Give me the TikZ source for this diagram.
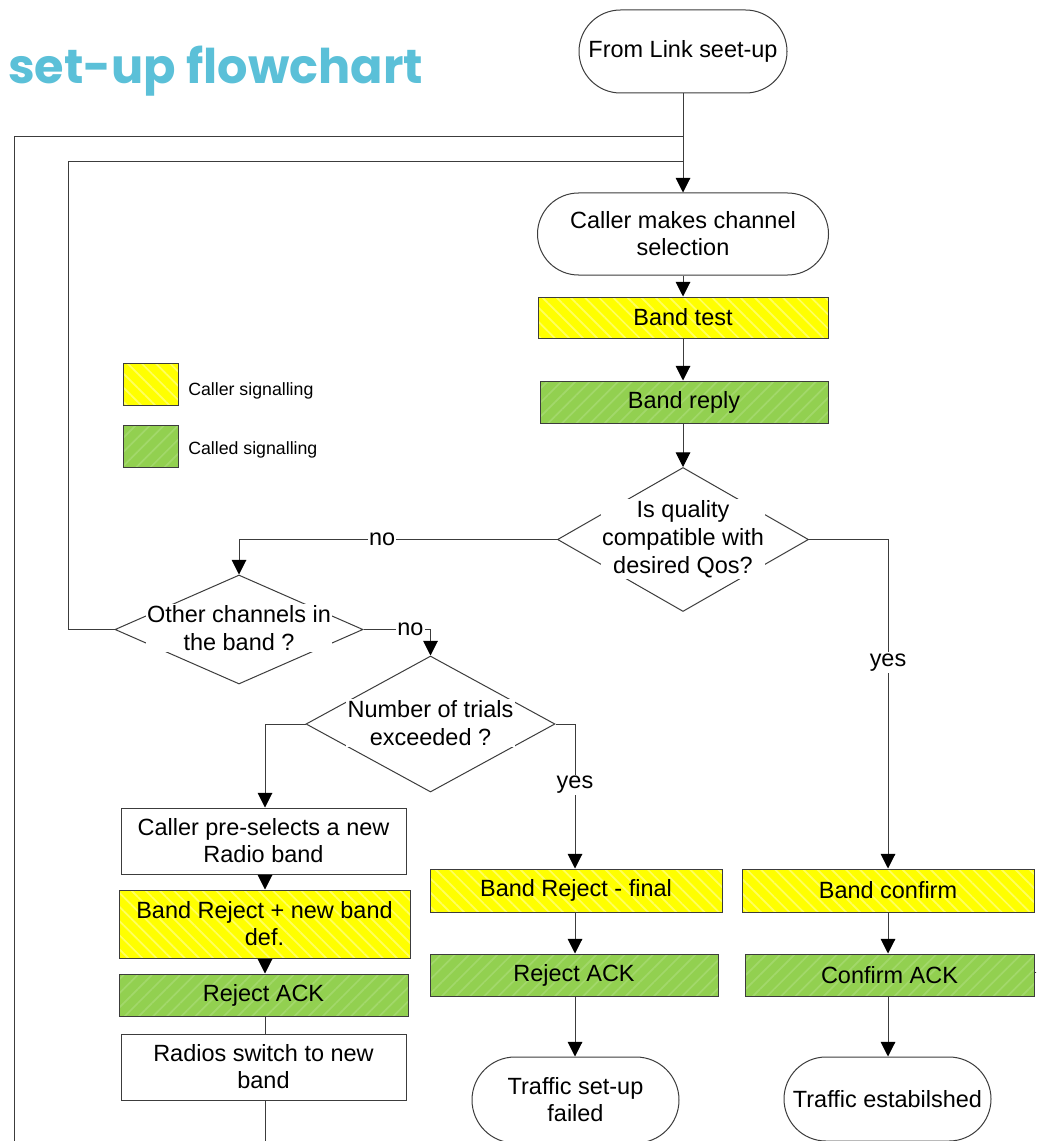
\documentclass[tikz,border=0pt]{standalone}
\usepackage{fontspec}
\setmainfont{Liberation Sans}
\newfontfamily\titlefont{Poppins}
\usetikzlibrary{shapes.geometric,shapes.misc,arrows.meta,patterns.meta}
\definecolor{ttl}{RGB}{91,192,216}
\definecolor{ylw}{RGB}{255,255,0}
\definecolor{ylwS}{RGB}{255,255,95}
\definecolor{grn}{RGB}{146,208,80}
\definecolor{grnS}{RGB}{162,216,106}
\definecolor{edge}{RGB}{60,60,60}
\tikzset{
  base/.style={draw=edge, line width=0.75pt, font=\fontsize{17.6}{20.3}\selectfont, align=center, inner sep=0pt},
  term/.style={base, rounded rectangle, fill=white},
  plainbox/.style={base, rectangle, fill=white},
  ybox/.style={base, rectangle, preaction={fill=ylw}, pattern={Lines[angle=-45,distance=7.5pt,line width=1.3pt]}, pattern color=ylwS},
  gbox/.style={base, rectangle, preaction={fill=grn}, pattern={Lines[angle=45,distance=7.5pt,line width=1.3pt]}, pattern color=grnS},
  dia/.style={draw=edge, line width=0.75pt, diamond, inner sep=0pt},
  diatext/.style={fill=white, inner sep=1pt, align=center, font=\fontsize{17.6}{20.8}\selectfont},
  conn/.style={draw=edge, line width=0.75pt},
  arr/.style={conn, -{Triangle[width=11pt,length=11pt,color=black]}},
  lbl/.style={fill=white, inner sep=1pt, font=\fontsize{17.6}{20.3}\selectfont},
  legtxt/.style={font=\fontsize{13.3}{15}\selectfont, anchor=west, inner sep=0pt},
}
\begin{document}
\begin{tikzpicture}[x=0.75pt,y=-0.75pt]
\useasboundingbox (0,0) rectangle (1036,1141);
\clip (0,0) rectangle (1036,1141);
\fill[white] (0,0) rectangle (1036,1141);

% title
\node[anchor=base west, inner sep=0pt, text=ttl] (title) at (8,84)
  {\resizebox{311pt}{!}{\titlefont\bfseries set-up flowchart}};

% legend
\node[ybox, minimum width=41.25pt, minimum height=31.5pt] (leg1) at (150.5,384) {};
\node[legtxt] (leg1t) at (188,391) {Caller signalling};
\node[gbox, minimum width=41.25pt, minimum height=31.5pt] (leg2) at (150.5,446) {};
\node[legtxt] (leg2t) at (188,450) {Called signalling};

% nodes
\node[term, minimum width=156pt, minimum height=62.25pt] (start) at (683,51.5) {From Link seet-up};
\node[term, minimum width=218.25pt, minimum height=61.5pt] (caller) at (683,234) {Caller makes channel\\selection};
\node[ybox, minimum width=217.5pt, minimum height=30.75pt] (btest) at (683,317.5) {Band test};
\node[gbox, minimum width=216pt, minimum height=31.5pt] (breply) at (684,402) {Band reply};

\node[dia, minimum width=188.25pt, minimum height=108pt] (q1) at (683,539.5) {};
\node[diatext] (q1t) at (683,539) {Is quality\\compatible with\\desired Qos?};
\node[dia, minimum width=186pt, minimum height=81.75pt] (q2) at (239,629.5) {};
\node[diatext] (q2t) at (239,628) {Other channels in\\the band ?};
\node[dia, minimum width=186.75pt, minimum height=102pt] (q3) at (430.5,724) {};
\node[diatext] (q3t) at (430.5,723) {Number of trials\\exceeded ?};

\node[plainbox, minimum width=213.75pt, minimum height=49.5pt] (presel) at (263.5,841) {Caller pre-selects a new\\Radio band};
\node[ybox, minimum width=218.25pt, minimum height=51pt] (brnew) at (264.5,924) {Band Reject + new band\\def.};
\node[gbox, minimum width=216.75pt, minimum height=31.5pt] (rack1) at (263.5,995) {Reject ACK};
\node[plainbox, minimum width=213.75pt, minimum height=49.5pt] (radios) at (263.5,1067) {Radios switch to new\\band};

\node[ybox, minimum width=219pt, minimum height=32.25pt] (brfinal) at (576,890.5) {Band Reject - final};
\node[gbox, minimum width=216pt, minimum height=31.5pt] (rack2) at (574,975) {Reject ACK};
\node[term, minimum width=155.25pt, minimum height=64.5pt] (failed) at (575.5,1100) {Traffic set-up\\failed};

\node[ybox, minimum width=219pt, minimum height=32.25pt] (bconf) at (888,890.5) {Band confirm};
\node[gbox, minimum width=216.75pt, minimum height=31.5pt] (cack) at (889.5,975) {Confirm ACK};
\node[term, minimum width=155.25pt, minimum height=63pt] (estab) at (887.5,1099) {Traffic estabilshed};

% helper coordinates
\coordinate (j1) at (683,137);
\coordinate (j2) at (683,162);
\coordinate (bl) at (265,1160);
\coordinate (br) at (14,1160);
\coordinate (stub) at (1050,972);

% connectors
\draw[arr] (start.south) -- (caller.north);
\draw[conn] (j1) -- (14,137) -- (br) -- (bl) -- (radios.south -| bl);
\draw[conn] (q2.west) -- (68,629.5) -- (68,162) -- (j2);
\draw[arr] (caller.south) -- (btest.north);
\draw[arr] (btest.south -| 683,0) -- (breply.north -| 683,0);
\draw[arr] (breply.south -| 683,0) -- (q1.north);
\draw[arr] (q1.west) -- node[lbl, pos=0.55] (no1) {no} (q2.north |- q1.west) -- (q2.north);
\draw[arr] (q1.east) -- (888,539.5) -- node[lbl, pos=0.374] (yes1) {yes} (bconf.north);
\draw[arr] (q2.east) -- node[lbl, pos=0.7] (no2) {no} (430.5,629.5) -- (q3.north);
\draw[arr] (q3.west) -- (265,724) -- (presel.north -| 265,0);
\draw[arr] (q3.east) -- (575,724) -- node[lbl, pos=0.42] (yes2) {yes} (brfinal.north -| 575,0);
\draw[arr] (presel.south -| 265,0) -- (brnew.north -| 265,0);
\draw[arr] (brnew.south -| 265,0) -- (rack1.north -| 265,0);
\draw[conn] (rack1.south -| 265,0) -- (radios.north -| 265,0);
\draw[arr] (brfinal.south -| 575,0) -- (rack2.north -| 575,0);
\draw[arr] (rack2.south -| 575,0) -- (failed.north -| 575,0);
\draw[arr] (bconf.south -| 888,0) -- (cack.north -| 888,0);
\draw[arr] (cack.south -| 888,0) -- (estab.north -| 888,0);
\draw[conn] (cack.east |- stub) -- (stub);
\end{tikzpicture}
\end{document}
